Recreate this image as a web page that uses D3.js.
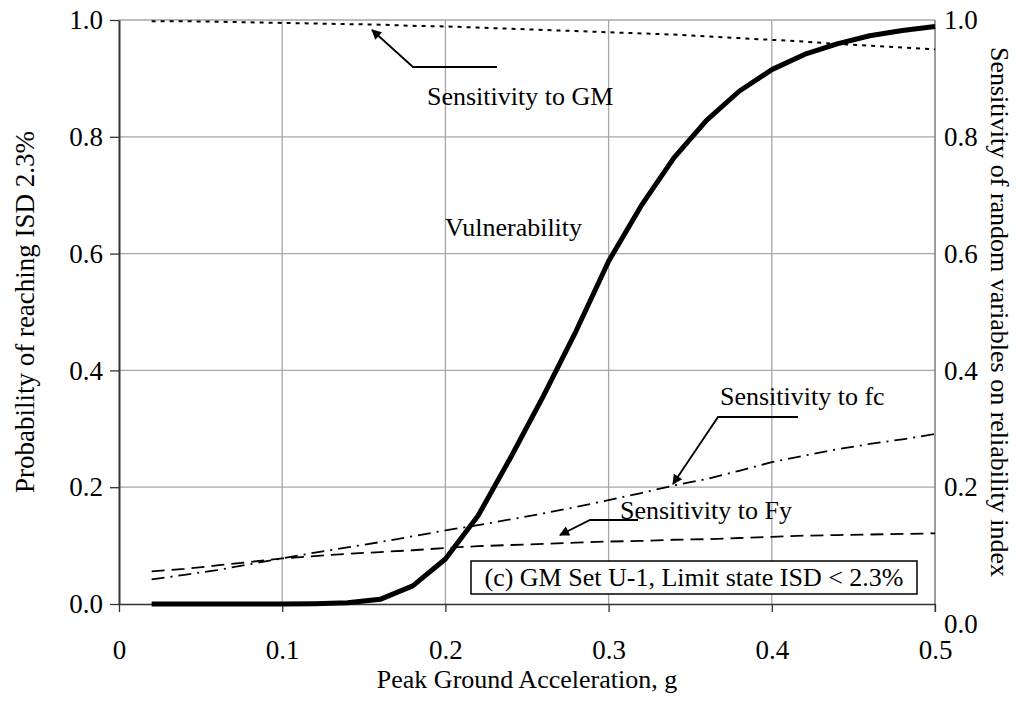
<!DOCTYPE html>
<html><head><meta charset="utf-8">
<script src="https://cdn.jsdelivr.net/npm/d3@7"></script>
<style>
body{margin:0;background:#fff;}
text{font-family:"Liberation Serif","Times New Roman",serif;fill:#000;}
</style></head>
<body><svg id="c" width="1021" height="717"></svg>
<script>
const pga = [0.02,0.04,0.06,0.08,0.10,0.12,0.14,0.16,0.18,0.20,0.22,0.24,0.26,0.28,0.30,0.32,0.34,0.36,0.38,0.40,0.42,0.44,0.46,0.48,0.50];
const vulnerability = [0,0,0,0,0,0.0005,0.002,0.008,0.031,0.077,0.151,0.251,0.356,0.467,0.587,0.682,0.764,0.828,0.878,0.915,0.941,0.959,0.973,0.982,0.989];
const sensGM = [0.998,0.998,0.997,0.996,0.995,0.994,0.993,0.992,0.990,0.989,0.987,0.985,0.983,0.981,0.979,0.977,0.975,0.972,0.969,0.966,0.963,0.959,0.956,0.953,0.950];
const sensFc = [0.042,0.050,0.058,0.068,0.078,0.088,0.097,0.106,0.116,0.126,0.135,0.145,0.155,0.166,0.178,0.190,0.203,0.214,0.228,0.243,0.254,0.265,0.274,0.282,0.291];
const sensFy = [0.056,0.060,0.066,0.072,0.078,0.082,0.086,0.089,0.092,0.096,0.099,0.101,0.103,0.105,0.107,0.108,0.110,0.111,0.113,0.115,0.117,0.118,0.119,0.120,0.121];
const xTicks = [0,0.1,0.2,0.3,0.4,0.5];
const xTickLabels = ["0","0.1","0.2","0.3","0.4","0.5"];
const yTicks = [0,0.2,0.4,0.6,0.8,1.0];
const yTickLabels = ["0.0","0.2","0.4","0.6","0.8","1.0"];

const svg = d3.select("#c");
const L=119, R=935, T=20, B=604;
const x = d3.scaleLinear().domain([0,0.5]).range([L,R]);
const y = d3.scaleLinear().domain([0,1]).range([B,T]);
const y2 = d3.scaleLinear().domain([0,1]).range([B,T]);
const FS = 26, TFS = 27;

// gridlines
const grid = svg.append("g");
grid.selectAll("line.v").data(xTicks.filter(d=>d>0)).enter().append("line")
  .attr("x1",d=>x(d)).attr("x2",d=>x(d)).attr("y1",T).attr("y2",B)
  .attr("stroke","#a6a6a6").attr("stroke-width",1.3);
grid.selectAll("line.h").data(yTicks.filter(d=>d>0)).enter().append("line")
  .attr("x1",L).attr("x2",R).attr("y1",d=>y(d)).attr("y2",d=>y(d))
  .attr("stroke","#a6a6a6").attr("stroke-width",1.3);
svg.append("line").attr("x1",R).attr("x2",R).attr("y1",T).attr("y2",B+8).attr("stroke","#8c8c8c").attr("stroke-width",1.5);

// axes
const xAxis = d3.axisBottom(x).tickValues(xTicks).tickFormat((d,i)=>xTickLabels[i]).tickSize(8).tickSizeOuter(0);
const gx = svg.append("g").attr("transform",`translate(0,${B})`).call(xAxis);
gx.select(".domain").attr("stroke","#333").attr("stroke-width",1.5);
gx.selectAll(".tick line").attr("stroke","#333").attr("stroke-width",1.3);
gx.selectAll(".tick text").attr("font-size",TFS).attr("dy",null).attr("y",55).attr("font-family","Liberation Serif");

const yAxis = d3.axisLeft(y).tickValues(yTicks).tickFormat((d,i)=>yTickLabels[i]).tickSize(9).tickSizeOuter(0);
const gy = svg.append("g").attr("transform",`translate(${L},0)`).call(yAxis);
gy.select(".domain").attr("stroke","#333").attr("stroke-width",2);
gy.selectAll(".tick line").attr("stroke","#333").attr("stroke-width",1.3);
gy.selectAll(".tick text").attr("font-size",TFS).attr("x",-16).attr("font-family","Liberation Serif");

const yAxisR = d3.axisRight(y2).tickValues(yTicks).tickFormat((d,i)=>yTickLabels[i]).tickSize(0).tickSizeOuter(0);
const gr = svg.append("g").attr("transform",`translate(${R},0)`).call(yAxisR);
gr.select(".domain").remove();
gr.selectAll(".tick text").attr("font-size",TFS).attr("x",9).attr("font-family","Liberation Serif")
  .attr("dy",d=>d===0?"1.05em":"0.32em");

// lines
const pts = arr => arr.map((v,i)=>[pga[i],v]);
const line1 = d3.line().x(d=>x(d[0])).y(d=>y(d[1]));
const line2 = d3.line().x(d=>x(d[0])).y(d=>y2(d[1]));
svg.append("path").attr("d",line2(pts(sensGM))).attr("fill","none").attr("stroke","#000").attr("stroke-width",2).attr("stroke-dasharray","4,5");
svg.append("path").attr("d",line2(pts(sensFc))).attr("fill","none").attr("stroke","#000").attr("stroke-width",1.8).attr("stroke-dasharray","13,6,2,6");
svg.append("path").attr("d",line2(pts(sensFy))).attr("fill","none").attr("stroke","#000").attr("stroke-width",1.8).attr("stroke-dasharray","13,7");
svg.append("path").attr("d",line1(pts(vulnerability))).attr("fill","none").attr("stroke","#000").attr("stroke-width",5).attr("stroke-linejoin","round");

// arrows
const defs = svg.append("defs");
defs.append("marker").attr("id","ah").attr("viewBox","0 0 10 10").attr("refX",9).attr("refY",5)
  .attr("markerWidth",12).attr("markerHeight",10).attr("markerUnits","userSpaceOnUse").attr("orient","auto")
  .append("path").attr("d","M0,0L10,5L0,10z").attr("fill","#000");
function arrow(p){
  svg.append("polyline").attr("points",p.map(d=>d.join(",")).join(" "))
    .attr("fill","none").attr("stroke","#000").attr("stroke-width",1.8).attr("marker-end","url(#ah)");
}
arrow([[497,67],[413,67],[372,30]]);
arrow([[798,417],[718,417],[673,484]]);
arrow([[638,520],[590,520],[560,535]]);

// annotation texts
const ann = (t,xx,yy)=>svg.append("text").attr("x",xx).attr("y",yy).attr("font-size",FS).text(t);
ann("Sensitivity to GM",427,105);
ann("Vulnerability",445,236);
ann("Sensitivity to fc",720,405);
ann("Sensitivity to Fy",620,519);

// box
svg.append("rect").attr("x",471).attr("y",561).attr("width",446).attr("height",33).attr("fill","#fff").attr("stroke","#000").attr("stroke-width",1.5);
svg.append("text").attr("x",694).attr("y",586).attr("text-anchor","middle").attr("font-size",FS)
  .text("(c) GM Set U-1, Limit state ISD < 2.3%");

// axis titles
svg.append("text").attr("x",(L+R)/2).attr("y",688).attr("text-anchor","middle").attr("font-size",FS).text("Peak Ground Acceleration, g");
svg.append("text").attr("transform",`translate(34,${(T+B)/2}) rotate(-90)`).attr("text-anchor","middle").attr("font-size",TFS).text("Probability of reaching ISD 2.3%");
svg.append("text").attr("transform",`translate(991,${(T+B)/2}) rotate(90)`).attr("text-anchor","middle").attr("font-size",FS).text("Sensitivity of random variables on reliability index");
</script></body></html>
